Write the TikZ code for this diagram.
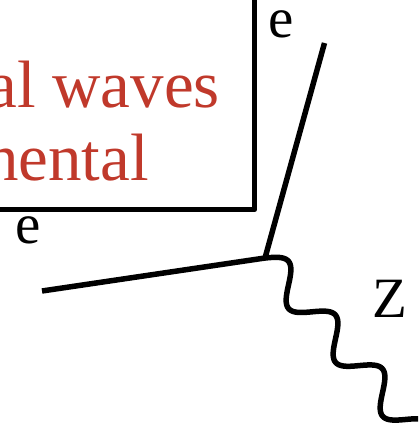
\documentclass[tikz,border=0pt]{standalone}
\usepackage{fontspec}
\setmainfont{Liberation Serif}
\definecolor{boxred}{RGB}{192,57,43}
\begin{document}
\begin{tikzpicture}[x=1pt,y=-1pt,
  thick line/.style={line width=5.5pt, line cap=butt, line join=round},
  redtext/.style={text=boxred, inner sep=0pt, font=\fontsize{67}{70}\selectfont},
  label text/.style={inner sep=0pt, font=\fontsize{57}{60}\selectfont}]
\useasboundingbox (0,0) rectangle (418,427);
\clip (0,0) rectangle (418,427);
% box
\draw[thick line] (-20,-20) rectangle (254.5,209.5);
\node[redtext, anchor=base east] (t1) at (220,108) {al waves};
\node[redtext, anchor=base east] (t2) at (149,181) {nental};
% fermion lines
\coordinate (v) at (265,258);
\coordinate (a) at (324.5,43);
\coordinate (b) at (42,291);
\draw[thick line] (a) -- (v) -- (b);
% boson
\draw[thick line, line cap=round, shift={(v)}] plot[domain=0:250, samples=250, smooth]
  ({0.664*\x + 11.6*sin(\x*5.0847)}, {0.76*\x - 10.3*sin(\x*5.0847)});
% labels
\node[label text, anchor=base] (l1) at (281,38) {e};
\node[label text, anchor=base] (l2) at (28.5,243.5) {e};
\node[label text, anchor=base] (lz) at (390,317) {Z};
\end{tikzpicture}
\end{document}
